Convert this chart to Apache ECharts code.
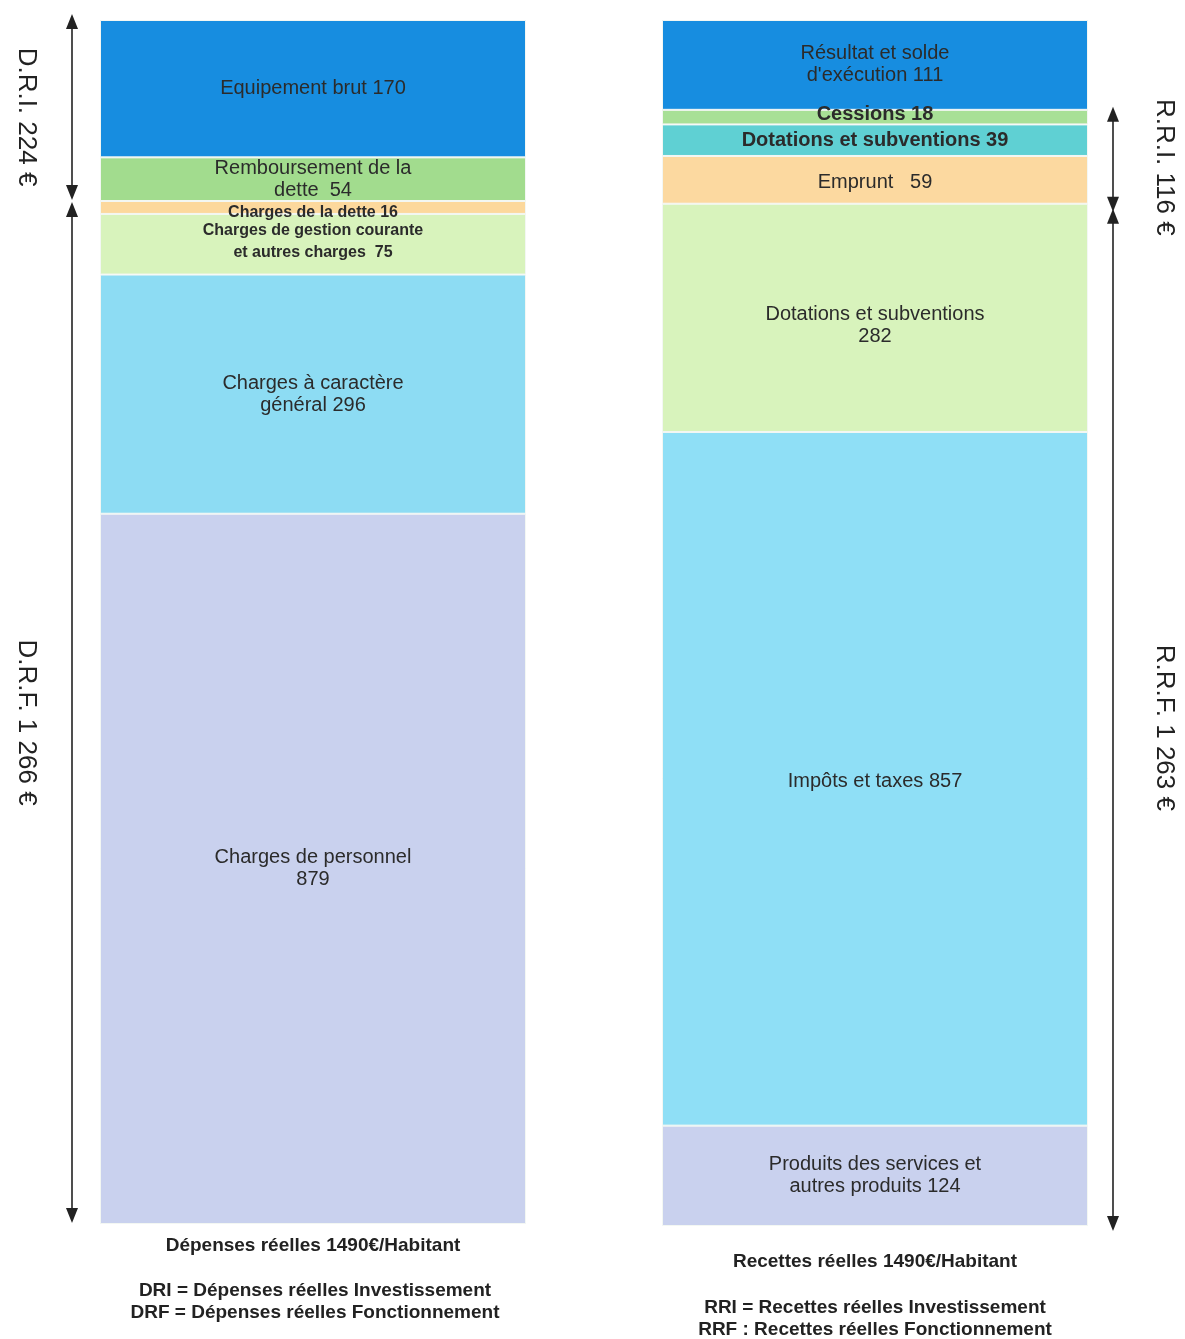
<!DOCTYPE html>
<html lang="fr">
<head>
<meta charset="utf-8">
<title>Dépenses et recettes réelles par habitant</title>
<script src="https://cdn.jsdelivr.net/npm/echarts@6/dist/echarts.min.js"></script>
<style>
  html, body { margin: 0; padding: 0; background: #ffffff; }
  #chart { width: 1185px; height: 1339px; }
</style>
</head>
<body>
<div id="chart"></div>
<script>
// Dépenses réelles (€/habitant), stacked from the bottom up
const depCategory = ['Dépenses réelles 1490€/Habitant'];
const depTexts = [
  'Charges de personnel\n',
  'Charges à caractère\ngénéral ',
  'Charges de gestion courante\net autres charges  ',
  'Charges de la dette ',
  'Remboursement de la\ndette  ',
  'Equipement brut '
];
const depValues = [879, 296, 75, 16, 54, 170];

// Recettes réelles (€/habitant), stacked from the bottom up
const recCategory = ['Recettes réelles 1490€/Habitant'];
const recTexts = [
  'Produits des services et\nautres produits ',
  'Impôts et taxes ',
  'Dotations et subventions\n',
  'Emprunt   ',
  'Dotations et subventions ',
  'Cessions ',
  'Résultat et solde\nd\'exécution '
];
const recValues = [124, 857, 282, 59, 39, 18, 111];

// Group totals shown beside the bars
const depGroups = [
  { text: 'D.R.I. 224 €', from: 1490, to: 1266 },
  { text: 'D.R.F. 1 266 €', from: 1266, to: 0 }
];
const recGroups = [
  { text: 'R.R.I. 116 €', from: 1379, to: 1263 },
  { text: 'R.R.F. 1 263 €', from: 1263, to: 0 }
];
const depNotes = ['DRI = Dépenses réelles Investissement', 'DRF = Dépenses réelles Fonctionnement'];
const recNotes = ['RRI = Recettes réelles Investissement', 'RRF : Recettes réelles Fonctionnement'];
const totalMax = 1490;

// Segment styling
const depColors = ['#c9d1ee', '#8ddcf3', '#d8f3bc', '#fcd89c', '#a2dc8e', '#178de0'];
const depFonts = [
  { size: 20, weight: 'normal' }, { size: 20, weight: 'normal' },
  { size: 16, weight: 'bold' }, { size: 16, weight: 'bold' },
  { size: 20, weight: 'normal' }, { size: 20, weight: 'normal' }
];
const depLabelOffset = [0, 0, -3, 5, 0, 0];
const recColors = ['#c9d1ee', '#8fdff6', '#d8f3bc', '#fcd9a0', '#5fd0d3', '#a8e096', '#178de0'];
const recFonts = [
  { size: 20, weight: 'normal' }, { size: 20, weight: 'normal' },
  { size: 20, weight: 'normal' }, { size: 20, weight: 'normal' },
  { size: 20, weight: 'bold' }, { size: 20, weight: 'bold' },
  { size: 20, weight: 'normal' }
];
const recLabelOffset = [0, 3, 8, 3, 0, -3, 0];

const FONT = '"Liberation Sans", Arial, sans-serif';
const INK = '#2b2b2b';

function makeSeries(values, texts, colors, fonts, offsets, axisIndex, stack) {
  return values.map((v, i) => ({
    type: 'bar',
    name: texts[i].replace(/\n/g, ' ').trim(),
    stack: stack,
    xAxisIndex: axisIndex,
    yAxisIndex: axisIndex,
    barWidth: '100%',
    data: [v],
    itemStyle: { color: colors[i], borderColor: '#f3f7f3', borderWidth: 1 },
    label: {
      show: true,
      position: 'inside',
      offset: [0, offsets[i]],
      formatter: p => texts[i] + p.value,
      color: INK,
      fontFamily: FONT,
      fontSize: fonts[i].size,
      fontWeight: fonts[i].weight,
      lineHeight: 22,
      align: 'center'
    },
    emphasis: { disabled: true },
    silent: true
  }));
}

const chart = echarts.init(document.getElementById('chart'), null, { renderer: 'canvas' });

const axisCommon = {
  axisLine: { show: false },
  axisTick: { show: false }
};

chart.setOption({
  animation: false,
  backgroundColor: '#ffffff',
  grid: [
    { left: 100, top: 20, width: 426, height: 1204 },
    { left: 662, top: 20, width: 426, height: 1206 }
  ],
  xAxis: [
    Object.assign({ type: 'category', gridIndex: 0, data: depCategory,
      axisLabel: { margin: 12, color: '#222', fontFamily: FONT, fontSize: 19, fontWeight: 'bold' } }, axisCommon),
    Object.assign({ type: 'category', gridIndex: 1, data: recCategory,
      axisLabel: { margin: 26, color: '#222', fontFamily: FONT, fontSize: 19, fontWeight: 'bold' } }, axisCommon)
  ],
  yAxis: [
    { type: 'value', gridIndex: 0, min: 0, max: totalMax, show: false },
    { type: 'value', gridIndex: 1, min: 0, max: totalMax, show: false }
  ],
  series: [
    ...makeSeries(depValues, depTexts, depColors, depFonts, depLabelOffset, 0, 'dep'),
    ...makeSeries(recValues, recTexts, recColors, recFonts, recLabelOffset, 1, 'rec')
  ]
});

// Double-headed range arrows, placed through the value axes
function arrow(x, yTop, yBottom) {
  const h = 15, w = 6;
  return [
    { type: 'line', silent: true, shape: { x1: x, y1: yTop + h - 2, x2: x, y2: yBottom - h + 2 },
      style: { stroke: '#222', lineWidth: 1.6 } },
    { type: 'polygon', silent: true, shape: { points: [[x, yTop], [x - w, yTop + h], [x + w, yTop + h]] },
      style: { fill: '#222' } },
    { type: 'polygon', silent: true, shape: { points: [[x, yBottom], [x - w, yBottom - h], [x + w, yBottom - h]] },
      style: { fill: '#222' } }
  ];
}

function verticalText(text, x, y) {
  return {
    type: 'text', silent: true, x: x, y: y, rotation: -Math.PI / 2,
    style: { text: text, fill: '#222', fontFamily: FONT, fontSize: 26,
      align: 'center', verticalAlign: 'middle' }
  };
}

function noteText(text, x, y) {
  return {
    type: 'text', silent: true, x: x, y: y,
    style: { text: text, fill: '#222', fontFamily: FONT, fontSize: 19, fontWeight: 'bold',
      align: 'center', verticalAlign: 'middle' }
  };
}

const graphics = [];
const px = (axis, v) => chart.convertToPixel({ yAxisIndex: axis }, v);

depGroups.forEach((g, i) => {
  const top = px(0, g.from) + (i === 0 ? -6 : 1);
  const bottom = px(0, g.to) - 1;
  graphics.push(...arrow(72, top, bottom));
  graphics.push(verticalText(g.text, 26, (top + bottom) / 2 + 10));
});
recGroups.forEach((g, i) => {
  const top = px(1, g.from) - 3 + (i === 1 ? 8 : 0);
  const bottom = px(1, g.to) + (i === 0 ? 8 : 5);
  graphics.push(...arrow(1113, top, bottom));
  graphics.push(verticalText(g.text, 1164, (top + bottom) / 2 + 8));
});

depNotes.forEach((t, i) => graphics.push(noteText(t, 315, 1291 + i * 22)));
recNotes.forEach((t, i) => graphics.push(noteText(t, 875, 1308 + i * 22)));

chart.setOption({ graphic: graphics });
</script>
</body>
</html>
